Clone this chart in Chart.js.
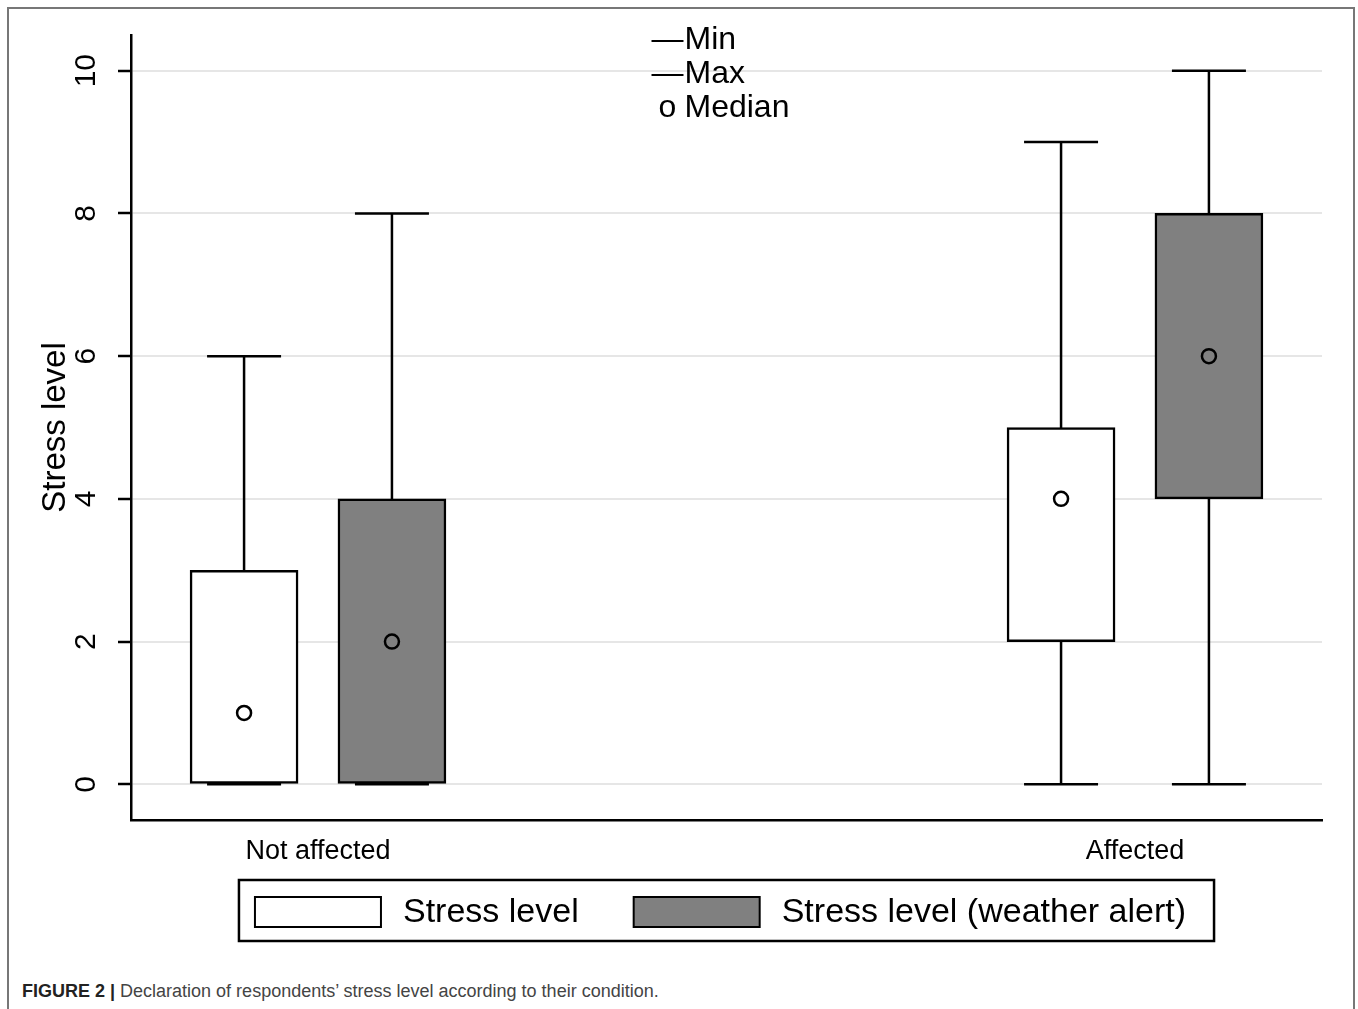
<!DOCTYPE html>
<html lang="en">
  <head>
    <meta charset="UTF-8" />
    <title>Stress level by condition</title>
    <style>
      body {
        margin: 0;
        background: #ffffff;
        font-family: "Liberation Sans", Arial, sans-serif;
        overflow: hidden;
      }
      .frame {
        position: absolute;
        left: 7px;
        top: 7px;
        width: 1348px;
        height: 1100px;
        box-sizing: border-box;
        border: 2px solid #777;
      }
      #chartWrap {
        position: absolute;
        left: 0;
        top: 0;
      }
      .caption {
        position: absolute;
        left: 13px;
        top: 972px;
        margin: 0;
        font-size: 18px;
        line-height: 20px;
        color: #444;
        white-space: nowrap;
      }
      .caption b {
        color: #222;
      }
    </style>
  </head>
  <body>
    <div class="frame">
      <div id="chartWrap">
        <canvas id="boxChart" width="1340" height="950"></canvas>
      </div>
      <p class="caption">
        <b>FIGURE 2 |</b> Declaration of respondents’ stress level according to their condition.
      </p>
    </div>

    <script src="https://cdn.jsdelivr.net/npm/chart.js"></script>
    <script>
      // categories on the x axis
      const categories = ["Not affected", "Affected"];
      const seriesNames = ["Stress level", "Stress level (weather alert)"];

      // box plot values, one entry per category
      const stressMin = [0, 0];
      const stressQ1 = [0, 2];
      const stressMedian = [1, 4];
      const stressQ3 = [3, 5];
      const stressMax = [6, 9];

      const alertMin = [0, 0];
      const alertQ1 = [0, 4];
      const alertMedian = [2, 6];
      const alertQ3 = [4, 8];
      const alertMax = [8, 10];

      const yTicks = [0, 2, 4, 6, 8, 10];

      // key shown at the top of the plot
      const keyMarks = ["—", "—", "o"];
      const keyLabels = ["Min", "Max", "Median"];

      const FONT = "'Liberation Sans', Arial, sans-serif";
      const BOX_SHIFT = 0.0905; // offset of each box from its category centre

      const series = [
        { label: seriesNames[0], min: stressMin, q1: stressQ1, med: stressMedian, q3: stressQ3, max: stressMax, fill: "#ffffff", shift: -BOX_SHIFT },
        { label: seriesNames[1], min: alertMin, q1: alertQ1, med: alertMedian, q3: alertQ3, max: alertMax, fill: "#808080", shift: BOX_SHIFT },
      ];

      const datasets = [];

      // boxes (q1 -> q3) as floating bars
      series.forEach((s) => {
        datasets.push({
          type: "bar",
          label: s.label,
          data: categories.map((c, i) => ({ x: i + s.shift, y: [s.q1[i], s.q3[i]] })),
          backgroundColor: s.fill,
          borderColor: "#000",
          borderWidth: 2.5,
          borderSkipped: false,
          grouped: false,
          barPercentage: 1,
          categoryPercentage: 1,
          maxBarThickness: 108,
          order: 3,
        });
      });

      series.forEach((s) => {
        // whisker line min -> max, drawn behind the box
        const whisker = [];
        categories.forEach((c, i) => {
          whisker.push({ x: i + s.shift, y: s.min[i] });
          whisker.push({ x: i + s.shift, y: s.max[i] });
          whisker.push({ x: i + s.shift, y: null });
        });
        datasets.push({
          type: "line",
          label: "",
          data: whisker,
          borderColor: "#000",
          borderWidth: 2.5,
          pointRadius: 0,
          spanGaps: false,
          order: 4,
        });

        // caps at min and max
        datasets.push({
          type: "scatter",
          label: "",
          data: categories.flatMap((c, i) => [
            { x: i + s.shift, y: s.min[i] },
            { x: i + s.shift, y: s.max[i] },
          ]),
          pointStyle: "line",
          pointRadius: 37,
          borderColor: "#000",
          borderWidth: 2.5,
          order: 2,
        });

        // median marker
        datasets.push({
          type: "scatter",
          label: "",
          data: categories.map((c, i) => ({ x: i + s.shift, y: s.med[i] })),
          pointStyle: "circle",
          pointRadius: 7,
          backgroundColor: "rgba(0,0,0,0)",
          borderColor: "#000",
          borderWidth: 2.5,
          order: 1,
        });
      });

      // Min / Max / Median key at the top centre
      const topKey = {
        id: "topKey",
        afterDraw(chart) {
          const { ctx, chartArea } = chart;
          const cx = (chartArea.left + chartArea.right) / 2;
          ctx.save();
          ctx.font = "32px " + FONT;
          ctx.fillStyle = "#000";
          ctx.textBaseline = "middle";
          keyLabels.forEach((lab, i) => {
            const y = chartArea.top + 5 + i * 34;
            ctx.textAlign = "center";
            ctx.fillText(keyMarks[i], cx - 59, y);
            ctx.textAlign = "left";
            ctx.fillText(lab, cx - 42, y);
          });
          ctx.restore();
        },
      };

      // framed legend below the axis
      const boxLegend = {
        id: "boxLegend",
        afterDraw(chart) {
          const { ctx, chartArea } = chart;
          const items = chart.data.datasets.filter((d) => d.type === "bar");
          const sw = 126, sh = 30, gap = 22, between = 55;
          const padL = 16, padR = 28, padT = 17, boxH = 61;
          ctx.save();
          ctx.font = "34px " + FONT;
          const widths = items.map((d) => ctx.measureText(d.label).width);
          let total = padL + padR + between * (items.length - 1);
          widths.forEach((w) => (total += sw + gap + w));
          const left = (chartArea.left + chartArea.right) / 2 - total / 2;
          const top = chartArea.bottom + 60;

          ctx.lineWidth = 2.5;
          ctx.strokeStyle = "#000";
          ctx.strokeRect(left, top, total, boxH);

          let x = left + padL;
          items.forEach((d, i) => {
            ctx.fillStyle = d.backgroundColor;
            ctx.fillRect(x, top + padT, sw, sh);
            ctx.lineWidth = 2;
            ctx.strokeRect(x, top + padT, sw, sh);
            ctx.fillStyle = "#000";
            ctx.textAlign = "left";
            ctx.textBaseline = "middle";
            ctx.fillText(d.label, x + sw + gap, top + padT + sh / 2 + 1);
            x += sw + gap + widths[i] + between;
          });
          ctx.restore();
        },
      };

      new Chart(document.getElementById("boxChart"), {
        type: "bar",
        data: { datasets: datasets },
        plugins: [topKey, boxLegend],
        options: {
          responsive: false,
          animation: false,
          layout: {
            autoPadding: false,
            padding: { top: 26, right: 27, bottom: 0, left: 0 },
          },
          plugins: {
            legend: { display: false },
            tooltip: { enabled: false },
          },
          scales: {
            x: {
              type: "linear",
              offset: false,
              min: -0.2289,
              max: 1.2289,
              afterBuildTicks: (scale) => {
                scale.ticks = categories.map((c, i) => ({ value: i }));
              },
              afterFit: (scale) => {
                scale.height = 139;
                scale.paddingLeft = 0;
                scale.paddingRight = 0;
              },
              grid: { display: false },
              border: { display: true, color: "#000", width: 2.5 },
              ticks: {
                color: "#000",
                font: { family: FONT, size: 27 },
                padding: 7,
                maxRotation: 0,
                callback: (v) => categories[v],
              },
            },
            y: {
              min: -0.5,
              max: 10.5,
              afterBuildTicks: (scale) => {
                scale.ticks = yTicks.map((v) => ({ value: v }));
              },
              afterFit: (scale) => {
                scale.width = 122;
                scale.paddingTop = 0;
                scale.paddingBottom = 0;
              },
              grid: {
                color: "#e6e6e6",
                lineWidth: 2,
                tickColor: "#000",
                tickWidth: 2.5,
                tickLength: 13,
              },
              border: { display: true, color: "#000", width: 2.5 },
              ticks: {
                color: "#000",
                font: { family: FONT, size: 30 },
                minRotation: 90,
                maxRotation: 90,
                crossAlign: "center",
                padding: 15,
              },
              title: {
                display: true,
                text: "Stress level",
                color: "#000",
                font: { family: FONT, size: 33 },
                padding: { top: 27, bottom: 0 },
              },
            },
          },
        },
      });
    </script>
  </body>
</html>
